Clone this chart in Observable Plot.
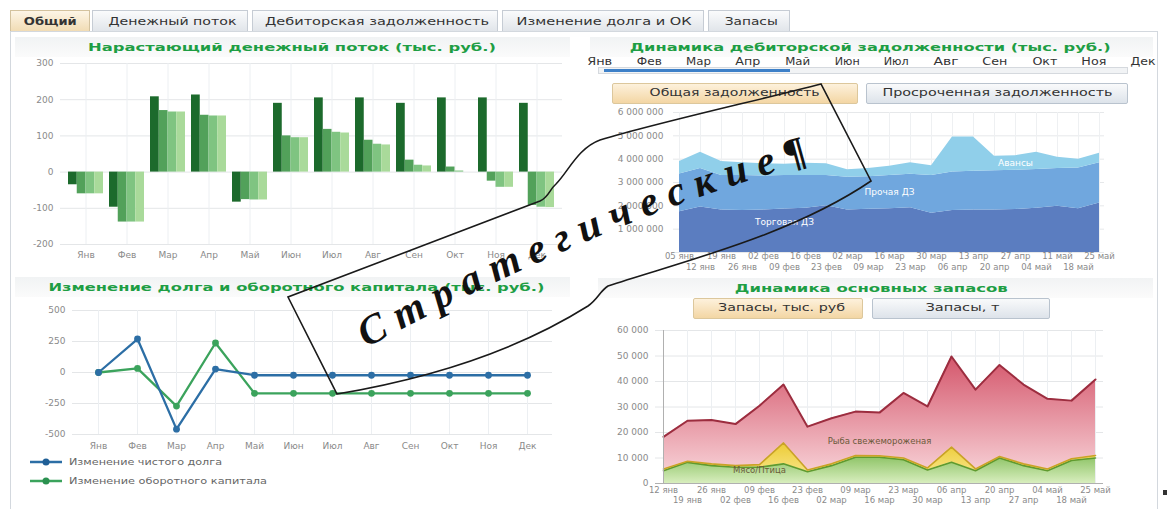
<!DOCTYPE html>
<html><head><meta charset="utf-8">
<script src="https://cdn.jsdelivr.net/npm/d3@7"></script>
<script src="https://cdn.jsdelivr.net/npm/@observablehq/plot@0.6"></script>
<style>
html,body{margin:0;padding:0}
body{width:1170px;height:509px;overflow:hidden;background:#fff;position:relative;font-family:"DejaVu Sans",Verdana,sans-serif}
.abs{position:absolute}
.tab{position:absolute;top:10px;height:21px;border:1px solid #c6ccd4;border-bottom:none;box-sizing:border-box;background:linear-gradient(#fafbfc,#e1e5ea)}
.tab.on{background:linear-gradient(#fdf5e6,#f1dcb4);border-color:#d3c29e}
.btn{position:absolute;height:21px;box-sizing:border-box;border:1px solid #b9c3ce;border-radius:2px;background:linear-gradient(#f9fafb,#dde3ea)}
.btn.on{border-color:#dcc79c;background:linear-gradient(#fdf1dc,#f3d6a4)}
.tbar{position:absolute;height:20px;background:linear-gradient(#f1f3f4,#fbfbfb)}
</style></head>
<body>
<svg width="0" height="0" style="position:absolute">
<defs>
<linearGradient id="gRed" x1="0" y1="0" x2="0" y2="1"><stop offset="0" stop-color="#d4566b"/><stop offset="1" stop-color="#f6ccd2"/></linearGradient>
<linearGradient id="gYellow" x1="0" y1="0" x2="0" y2="1"><stop offset="0" stop-color="#eccb34"/><stop offset="1" stop-color="#f7e27e"/></linearGradient>
<linearGradient id="gGreen" x1="0" y1="0" x2="0" y2="1"><stop offset="0" stop-color="#8fc468"/><stop offset="1" stop-color="#d8eebe"/></linearGradient>
</defs></svg>

<div class="abs" style="left:10px;top:31px;width:1148px;height:480px;border:1px solid #d3d8de;border-bottom:none;box-sizing:border-box"></div>
<div class="tab on" style="left:10px;width:80px"></div>
<div class="tab" style="left:92px;width:156px"></div>
<div class="tab" style="left:252px;width:246px"></div>
<div class="tab" style="left:502px;width:202px"></div>
<div class="tab" style="left:708px;width:82px"></div>

<div class="tbar" style="left:15px;top:37px;width:555px"></div>
<div class="tbar" style="left:590px;top:37px;width:563px"></div>
<div class="tbar" style="left:15px;top:277px;width:555px"></div>
<div class="tbar" style="left:598px;top:278px;width:555px"></div>

<div class="abs" style="left:598px;top:67px;width:530px;height:7px;border:1px solid #d5d9de;background:#f1f3f5;box-sizing:border-box"></div>
<div class="abs" style="left:604px;top:69px;width:186px;height:3px;background:#3d80c8"></div>

<div class="btn on" style="left:612px;top:83px;width:246px"></div>
<div class="btn" style="left:866px;top:83px;width:262px"></div>
<div class="btn on" style="left:693px;top:298px;width:170px"></div>
<div class="btn" style="left:872px;top:298px;width:178px"></div>

<div id="c1" class="abs" style="left:0px;top:50px"></div>
<div id="c2" class="abs" style="left:600px;top:100px"></div>
<div id="c3" class="abs" style="left:0px;top:295px"></div>
<div id="c4" class="abs" style="left:600px;top:322px"></div>

<svg class="abs" style="left:28px;top:453px" width="40" height="40">
<line x1="2" y1="9" x2="34" y2="9" stroke="#2c6ea5" stroke-width="2.5"/><circle cx="18" cy="9" r="3.5" fill="#1f5f96"/>
<line x1="2" y1="28" x2="34" y2="28" stroke="#3ba35c" stroke-width="2.5"/><circle cx="18" cy="28" r="3.5" fill="#2b9150"/>
</svg>
<div class="abs" style="left:1163px;top:490px;width:4px;height:5px;background:#333"></div>

<svg id="overlay" class="abs" style="left:0;top:0;z-index:20" width="1170" height="509">
<path d="M821,84 C760,100 660,122 600,140 C578,148 568,172 556,184 C549,190 549,197 540,201 C470,228 380,262 288,297 L337,394 C420,380 510,355 588,306 C598,299 600,291 608,286 C680,262 790,236 871,181 Z" fill="none" stroke="#1a1a1a" stroke-width="1.6"/>
<path id="tp" d="M366,348 Q616,214 818,160" fill="none"/>
<text id="ovtext" font-family="Liberation Serif, DejaVu Serif, serif" font-weight="bold" font-style="italic" font-size="41" fill="#111"><textPath href="#tp">Стратегические¶</textPath></text>
</svg>

<script>
// ---------- DATA ----------
const months = ["Янв","Фев","Мар","Апр","Май","Июн","Июл","Авг","Сен","Окт","Ноя","Дек"];

// Нарастающий денежный поток (тыс. руб.) — four series
const cfSeriesNames = ["Ряд 1","Ряд 2","Ряд 3","Ряд 4"];
const cfSeries1 = [-35, -97, 208, 213, -83, 190, 205, 205, 190, 205, 205, 190];
const cfSeries2 = [-60, -138, 170, 157, -76, 100, 118, 88, 33, 14, -25, -92];
const cfSeries3 = [-60, -138, 166, 155, -77, 95, 110, 77, 19, 3, -42, -97];
const cfSeries4 = [-60, -138, 166, 155, -77, 95, 108, 75, 17, 0, -42, -98];
const cfTicks = [-200, -100, 0, 100, 200, 300];

// Динамика дебиторской задолженности (тыс. руб.)
const arDates = ["05 янв","12 янв","19 янв","26 янв","02 фев","09 фев","16 фев","23 фев","02 мар","09 мар","16 мар","23 мар","30 мар","06 апр","13 апр","20 апр","27 апр","04 май","11 май","18 май","25 май"];
const arSeriesNames = ["Торговая ДЗ","Прочая ДЗ","Авансы"];
const arTrade    = [1750000,1950000,1820000,1800000,1820000,1860000,1900000,2000000,1820000,1850000,1880000,1920000,1680000,1800000,1820000,1820000,1840000,1900000,1980000,1880000,2120000];
const arOther    = [1610000,1650000,1480000,1500000,1460000,1440000,1400000,1300000,1400000,1400000,1420000,1430000,1620000,1650000,1660000,1680000,1680000,1660000,1620000,1740000,1730000];
const arAdvances = [540000,700000,600000,550000,520000,480000,520000,500000,330000,350000,400000,500000,420000,1500000,1470000,620000,630000,740000,480000,380000,400000];
const arTicks = [0,1000000,2000000,3000000,4000000,5000000,6000000];

// Изменение долга и оборотного капитала (тыс. руб.)
const lnSeriesNames = ["Изменение чистого долга","Изменение оборотного капитала"];
const debtChange = [0, 270, -457, 28, -22, -22, -22, -22, -22, -22, -22, -22];
const wcChange   = [0, 33, -271, 238, -168, -168, -168, -168, -168, -168, -168, -168];
const lnTicks = [-500, -250, 0, 250, 500];

// Динамика основных запасов (тыс. руб.)
const invDates = ["12 янв","19 янв","26 янв","02 фев","09 фев","16 фев","23 фев","02 мар","09 мар","16 мар","23 мар","30 мар","06 апр","13 апр","20 апр","27 апр","04 май","18 май","25 май"];
const invSeriesNames = ["Мясо/Птица","Масло","Рыба свежемороженая"];
const invMeat   = [5000,8300,7000,6400,6400,7700,4600,7000,10300,10300,9300,5300,8300,5000,10000,7000,5000,9000,10000];
const invButter = [700,400,700,600,1000,8200,700,700,700,600,700,800,6000,700,600,700,700,700,1000];
const invFish   = [12600,15900,17200,16300,23100,22900,17000,17900,17200,16900,25500,24100,35500,31100,35900,31100,27500,22800,29800];
const invTicks = [0,10000,20000,30000,40000,50000,60000];

// ---------- HELPERS ----------
const fmtSp = d3.formatLocale({decimal: ",", thousands: "\u00a0", grouping: [3], currency: ["", ""]}).format(",");
const plotStyle = {fontFamily: "DejaVu Sans, sans-serif", fontSize: "9px", color: "#8a8a8a", background: "none", overflow: "visible"};

function label(s, cx, cy, w, css, align) {
  const el = document.createElement("div");
  el.textContent = s;
  Object.assign(el.style, {position: "absolute", whiteSpace: "nowrap", left: "0px", top: "0px", lineHeight: "1", zIndex: 5}, css || {});
  document.body.appendChild(el);
  const r = el.getBoundingClientRect();
  const k = w ? w / r.width : 1;
  if (align === "left") {
    el.style.left = cx + "px";
    el.style.transformOrigin = "left center";
  } else {
    el.style.left = (cx - r.width / 2) + "px";
    el.style.transformOrigin = "center center";
  }
  el.style.top = (cy - r.height / 2) + "px";
  el.style.transform = `scaleX(${k})`;
  return el;
}

// ---------- UI TEXT ----------
const tabCss = {fontSize: "10.5px", color: "#333"};
label("Общий", 50, 21, 53, {fontSize: "10.5px", color: "#333", fontWeight: "bold"});
label("Денежный поток", 172, 21, 128, tabCss);
label("Дебиторская задолженность", 377, 21, 224, tabCss);
label("Изменение долга и ОК", 604, 21, 175, tabCss);
label("Запасы", 751, 21, 53, tabCss);

const ttlCss = {fontSize: "11px", color: "#1e9e44", fontWeight: "bold"};
label("Нарастающий денежный поток (тыс. руб.)", 292, 47, 408, ttlCss);
label("Динамика дебиторской задолженности (тыс. руб.)", 870, 47, 481, ttlCss);
label("Изменение долга и оборотного капитала (тыс. руб.)", 296, 287, 496, ttlCss);
label("Динамика основных запасов", 871, 288, 273, ttlCss);

months.forEach((m, i) => label(m, 600 + i * 49.4, 62, 25, {fontSize: "10px", color: "#333"}));

const btnCss = {fontSize: "10px", color: "#333"};
label("Общая задолженность", 735, 93, 170, btnCss);
label("Просроченная задолженность", 997, 93, 230, btnCss);
label("Запасы, тыс. руб", 781, 308, 127, btnCss);
label("Запасы, т", 962, 308, 74, btnCss);

label(lnSeriesNames[0], 69, 462, 153, {fontSize: "9.5px", color: "#666"}, "left");
label(lnSeriesNames[1], 69, 481, 198, {fontSize: "9.5px", color: "#666"}, "left");

// ---------- CHART 1: grouped bars ----------
{
  const cfValues = [cfSeries1, cfSeries2, cfSeries3, cfSeries4];
  const cfColors = ["#1c6a2c", "#52a15a", "#7fc481", "#a9da9a"];
  const data = [];
  cfSeriesNames.forEach((s, k) => months.forEach((m, i) => data.push({month: m, series: s, value: cfValues[k][i]})));
  const opts = {
    width: 575, height: 222, marginLeft: 60, marginRight: 13, marginTop: 13, marginBottom: 28,
    style: plotStyle,
    x: {domain: months, padding: 0.14, label: null, tickSize: 0, tickPadding: 7},
    y: {domain: [-200, 300], ticks: cfTicks, label: null, tickSize: 0, tickPadding: 7, tickFormat: d => String(d)}
  };
  const base = Plot.plot({...opts, marks: [Plot.barY(data, {x: "month", y: "value"})]});
  let bw = base.scale("x") && base.scale("x").bandwidth;
  if (!(bw > 0)) bw = (575 - 60 - 13) / (months.length - 0.14 + 0.28) * 0.86;
  const w = bw / 4;
  const svg = Plot.plot({
    ...opts,
    marks: [
      Plot.ruleY(cfTicks, {stroke: "#e4e6e8"}),
      Plot.ruleX(months, {stroke: "#eceff2"}),
      ...cfSeriesNames.map((s, k) => Plot.barY(data.filter(d => d.series === s), {
        x: "month", y: "value", fill: cfColors[k], insetLeft: k * w, insetRight: (3 - k) * w
      }))
    ]
  });
  document.getElementById("c1").appendChild(svg);
}

// ---------- CHART 2: stacked areas (receivables) ----------
{
  const vals = [arTrade, arOther, arAdvances];
  const data = [];
  arDates.forEach((d, i) => arSeriesNames.forEach((s, k) => data.push({date: d, series: s, value: vals[k][i]})));
  const mid = (i, k) => vals.slice(0, k).reduce((a, v) => a + v[i], 0) + vals[k][i] * (k === 0 ? 0.7 : 0.5);
  const lbl = [
    {date: arDates[5], y: mid(5, 0), text: "Торговая ДЗ"},
    {date: arDates[10], y: mid(10, 1), text: "Прочая ДЗ"},
    {date: arDates[16], y: mid(16, 2), text: "Авансы"}
  ];
  const svg = Plot.plot({
    width: 520, height: 180, marginLeft: 73, marginRight: 16, marginTop: 12, marginBottom: 28,
    style: plotStyle,
    x: {type: "point", domain: arDates, padding: 0, axis: null},
    y: {domain: [0, 6000000], ticks: arTicks, label: null, tickSize: 0, tickPadding: 10, tickFormat: d => d === 0 ? "" : fmtSp(d)},
    color: {domain: arSeriesNames, range: ["#5b7dc0", "#70a7de", "#90cfea"]},
    marks: [
      Plot.ruleY(arTicks, {stroke: "#e6e8ea"}),
      Plot.ruleX(arDates, {stroke: "#eef0f2"}),
      Plot.areaY(data, {x: "date", y: "value", fill: "series"}),
      Plot.text(lbl, {x: "date", y: "y", text: "text", fill: "white", fontSize: 9}),
      Plot.text(arDates.filter((d, i) => i % 2 === 0), {x: d => d, text: d => d, frameAnchor: "bottom", dy: 6, fill: "#8a8a8a", fontSize: 8.5}),
      Plot.text(arDates.filter((d, i) => i % 2 === 1), {x: d => d, text: d => d, frameAnchor: "bottom", dy: 17, fill: "#8a8a8a", fontSize: 8.5})
    ]
  });
  document.getElementById("c2").appendChild(svg);
}

// ---------- CHART 3: lines ----------
{
  const data = [];
  months.forEach((m, i) => data.push({month: m, series: lnSeriesNames[1], value: wcChange[i]}));
  months.forEach((m, i) => data.push({month: m, series: lnSeriesNames[0], value: debtChange[i]}));
  const svg = Plot.plot({
    width: 575, height: 165, marginLeft: 72, marginRight: 23, marginTop: 15, marginBottom: 26,
    style: plotStyle,
    x: {type: "point", domain: months, padding: 0.55, label: null, tickSize: 0, tickPadding: 8},
    y: {domain: [-500, 500], ticks: lnTicks, label: null, tickSize: 0, tickPadding: 7, tickFormat: d => String(d)},
    color: {domain: lnSeriesNames, range: ["#2c6ea5", "#3ba35c"]},
    marks: [
      Plot.ruleY(lnTicks, {stroke: "#e4e6e8"}),
      Plot.ruleX(months, {stroke: "#eceff2"}),
      Plot.lineY(data, {x: "month", y: "value", stroke: "series", strokeWidth: 2.3}),
      Plot.dot(data, {x: "month", y: "value", fill: "series", r: 3.4})
    ]
  });
  document.getElementById("c3").appendChild(svg);
}

// ---------- CHART 4: stacked areas (inventory) ----------
{
  const vals = [invMeat, invButter, invFish];
  const data = [];
  invDates.forEach((d, i) => invSeriesNames.forEach((s, k) => data.push({date: d, series: s, value: vals[k][i]})));
  const top = k => invDates.map((d, i) => vals.slice(0, k + 1).reduce((a, v) => a + v[i], 0));
  const lineColors = ["#5f9a2e", "#c9a227", "#9c2d3f"];
  const lbl = [
    {date: invDates[9], y: top(1)[9] + invFish[9] * 0.33, text: "Рыба свежемороженая"},
    {date: invDates[4], y: invMeat[4] * 0.82, text: "Мясо/Птица"}
  ];
  const svg = Plot.plot({
    width: 520, height: 187, marginLeft: 55, marginRight: 17, marginTop: 8, marginBottom: 26,
    style: plotStyle,
    x: {type: "point", domain: invDates, padding: 0, axis: null},
    y: {domain: [0, 60000], ticks: invTicks, label: null, tickSize: 0, tickPadding: 7, tickFormat: d => fmtSp(d)},
    color: {domain: invSeriesNames, range: ["url(#gGreen)", "url(#gYellow)", "url(#gRed)"]},
    marks: [
      Plot.ruleY(invTicks, {stroke: "#e4e6e8"}),
      Plot.ruleX(invDates, {stroke: "#eceff2"}),
      Plot.areaY(data, {x: "date", y: "value", fill: "series"}),
      ...[0, 1, 2].map(k => Plot.lineY(invDates, {x: d => d, y: (d, i) => top(k)[i], stroke: lineColors[k], strokeWidth: k === 2 ? 2 : 1.6})),
      Plot.ruleX([invDates[0]], {stroke: "#b0b0b0"}),
      Plot.ruleY([0], {stroke: "#b0b0b0"}),
      Plot.text(lbl, {x: "date", y: "y", text: "text", fill: "#6b5a3a", fontSize: 8.5}),
      Plot.text(invDates.filter((d, i) => i % 2 === 0), {x: d => d, text: d => d, frameAnchor: "bottom", dy: 9, fill: "#8a8a8a", fontSize: 8.5}),
      Plot.text(invDates.filter((d, i) => i % 2 === 1), {x: d => d, text: d => d, frameAnchor: "bottom", dy: 19, fill: "#8a8a8a", fontSize: 8.5})
    ]
  });
  document.getElementById("c4").appendChild(svg);
}

// ---------- overlay text spacing ----------
{
  const t = document.getElementById("ovtext");
  const len = t.getComputedTextLength();
  const n = "Стратегические¶".length;
  t.style.letterSpacing = Math.max(0, (480 - len) / (n - 1)) + "px";
}
</script>
</body></html>
